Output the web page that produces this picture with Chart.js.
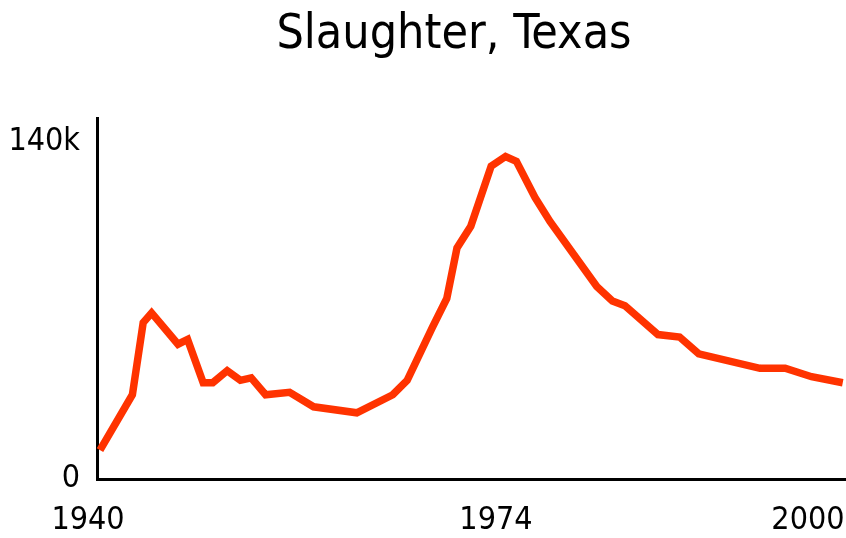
<!DOCTYPE html>
<html>
<head>
<meta charset="utf-8">
<script src="https://cdn.jsdelivr.net/npm/chart.js@4/dist/chart.umd.min.js"></script>
<style>
  html, body { margin: 0; padding: 0; background: #fff; }
  #wrap { width: 846px; height: 538px; position: relative; }
</style>
</head>
<body>
<div id="wrap"><canvas id="c"></canvas></div>
<script>
// Data (values in thousands of head)
const years = [1941.0, 1943.7, 1944.6, 1945.3, 1947.5, 1948.3, 1949.6, 1950.4, 1951.6, 1952.7,
               1953.6, 1954.8, 1956.8, 1958.8, 1962.4, 1965.4, 1966.6, 1968.7, 1969.9, 1970.75,
               1971.9, 1973.6, 1974.8, 1975.7, 1977.25, 1978.5, 1982.4, 1983.7, 1984.75, 1987.5,
               1989.3, 1990.9, 1996.0, 1998.1, 2000.3, 2002.9];
const slaughter = [12, 35, 65, 69, 56, 58, 40, 40, 45, 41,
                   42, 35, 36, 30, 27.5, 35, 41, 63, 75, 96,
                   105, 130, 134, 132, 117, 107, 80, 74, 72, 60,
                   59, 52, 46, 46, 42.5, 40];
const xTickYears = [1940, 1974, 2000];
const yTickValues = [0, 140];
const titleText = 'Slaughter, Texas';

const FONT = '"Liberation Sans Narrow", "Arial Narrow", "DejaVu Sans Condensed", sans-serif';

const points = years.map((y, i) => ({ x: y, y: slaughter[i] }));

// Shift the title's box so the text is centred where the reference has it
const titleShift = {
  id: 'titleShift',
  afterLayout(chart) {
    if (chart.titleBlock) { chart.titleBlock.left = 62; }
  }
};

new Chart(document.getElementById('c'), {
  type: 'line',
  data: {
    datasets: [{
      data: points,
      borderColor: '#ff3300',
      borderWidth: 7.5,
      pointRadius: 0,
      tension: 0,
      fill: false,
      clip: false
    }]
  },
  options: {
    responsive: true,
    maintainAspectRatio: false,
    animation: false,
    layout: { padding: 0 },
    plugins: {
      legend: { display: false },
      tooltip: { enabled: false },
      title: {
        display: true,
        text: titleText,
        color: '#000',
        font: { family: FONT, size: 48, weight: 'normal', lineHeight: 1 },
        padding: { top: 11.5, bottom: 58.5 }
      }
    },
    scales: {
      x: {
        type: 'linear',
        min: 1940.75,
        max: 2003.17,
        grid: { display: false, drawTicks: false },
        border: { display: true, color: '#000', width: 3 },
        afterBuildTicks: (scale) => { scale.ticks = xTickYears.map(v => ({ value: v })); },
        afterFit: (scale) => { scale.height = 59; scale.paddingLeft = 0; scale.paddingRight = 0; },
        ticks: {
          autoSkip: false,
          maxRotation: 0,
          padding: 25.5,
          color: '#000',
          font: { family: FONT, size: 32, lineHeight: 1 },
          callback: (v) => String(v)
        }
      },
      y: {
        type: 'linear',
        position: 'left',
        min: 0,
        max: 150,
        grid: { display: false, drawTicks: false },
        border: { display: true, color: '#000', width: 3 },
        afterBuildTicks: (scale) => { scale.ticks = yTickValues.map(v => ({ value: v })); },
        afterFit: (scale) => { scale.width = 97; scale.paddingTop = 0; scale.paddingBottom = 0; },
        ticks: {
          autoSkip: false,
          padding: 17,
          color: '#000',
          font: { family: FONT, size: 32, lineHeight: 1 },
          callback: (v) => (v === 0 ? '0' : v + 'k')
        }
      }
    }
  },
  plugins: [titleShift]
});
</script>
</body>
</html>
